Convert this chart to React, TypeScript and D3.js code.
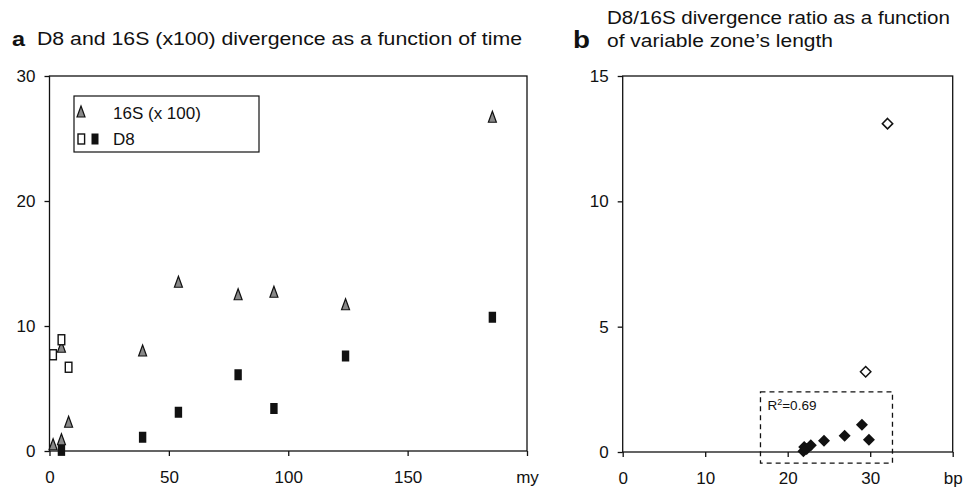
import React, { useRef, useEffect } from "react"
import * as d3 from "d3"

// panel a: divergence vs time (my)
const time16S = [1.5, 5, 5, 8, 39, 54, 79, 94, 124, 185.5]
const div16S = [0.5, 0.9, 8.3, 2.3, 8.0, 13.5, 12.5, 12.7, 11.7, 26.7]
const timeD8Open = [1.5, 5, 8]
const divD8Open = [7.7, 8.9, 6.7]
const timeD8Filled = [5, 39, 54, 79, 94, 124, 185.5]
const divD8Filled = [0.05, 1.1, 3.1, 6.1, 3.4, 7.6, 10.7]
const ticksA_x = [0, 50, 100, 150, 200]
const ticksA_y = [0, 10, 20, 30]

// panel b: D8/16S ratio vs variable zone length (bp)
const lenFilled = [21.9, 22.0, 22.3, 22.8, 24.4, 26.9, 29.0, 29.85]
const ratioFilled = [0.03, 0.2, 0.12, 0.27, 0.45, 0.65, 1.09, 0.49]
const lenOpen = [29.45, 32.1]
const ratioOpen = [3.2, 13.1]
const boxLen = [16.7, 32.7]
const boxRatio = [-0.44, 2.4]
const ticksB_x = [0, 10, 20, 30, 40]
const ticksB_y = [0, 5, 10, 15]

const FONT = "'Liberation Sans', Arial, sans-serif"
const INK = "#111"

const triPath = "M0,-6L4,5L-4,5Z"
const diamondPath = (r: number) => `M0,${-r}L${r},0L0,${r}L${-r},0Z`

function App() {
  const ref = useRef<SVGSVGElement>(null)

  useEffect(() => {
    const svg = d3.select(ref.current)
    svg.selectAll("*").remove()

    const xA = d3.scaleLinear().domain([0, 200]).range([49.5, 527])
    const yA = d3.scaleLinear().domain([0, 30]).range([451, 76])
    const xB = d3.scaleLinear().domain([0, 40]).range([622.7, 952.7])
    const yB = d3.scaleLinear().domain([0, 15]).range([452, 76])

    const styleAxis = (g: any) => {
      g.select(".domain").remove()
      g.selectAll("line").attr("stroke", INK).attr("stroke-width", 1.3)
      g.selectAll("text")
        .attr("font-family", FONT)
        .attr("font-size", 17)
        .attr("fill", INK)
    }

    const drawFrame = (x: any, y: any, xt: number[], yt: number[], unit: string) => {
      const [x0, x1] = x.range()
      const [y0, y1] = y.range()
      svg
        .append("g")
        .attr("transform", `translate(0,${y0})`)
        .call(
          d3
            .axisBottom(x)
            .tickValues(xt)
            .tickSize(5)
            .tickPadding(15)
            .tickFormat((d: any) => (d === xt[xt.length - 1] ? unit : String(d)))
        )
        .call(styleAxis)
      svg
        .append("g")
        .attr("transform", `translate(${x0},0)`)
        .call(d3.axisLeft(y).tickValues(yt).tickSize(5).tickPadding(9))
        .call(styleAxis)
      svg
        .append("rect")
        .attr("x", x0)
        .attr("y", y1)
        .attr("width", x1 - x0)
        .attr("height", y0 - y1)
        .attr("fill", "none")
        .attr("stroke", INK)
        .attr("stroke-width", 1.3)
    }

    drawFrame(xA, yA, ticksA_x, ticksA_y, "my")
    drawFrame(xB, yB, ticksB_x, ticksB_y, "bp")

    // titles (the source figure is stretched sideways, so the text is too)
    const title = svg
      .append("g")
      .attr("font-family", FONT)
      .attr("font-size", 17.5)
      .attr("fill", INK)
    title.append("text").attr("x", 12).attr("y", 46).attr("font-weight", "bold")
      .attr("font-size", 21).attr("textLength", 13).attr("lengthAdjust", "spacingAndGlyphs").text("a")
    title.append("text").attr("x", 37).attr("y", 45)
      .attr("textLength", 485).attr("lengthAdjust", "spacingAndGlyphs")
      .text("D8 and 16S (x100) divergence as a function of time")
    title.append("text").attr("x", 573).attr("y", 48).attr("font-weight", "bold")
      .attr("font-size", 24).attr("textLength", 17).attr("lengthAdjust", "spacingAndGlyphs").text("b")
    title.append("text").attr("x", 607).attr("y", 24)
      .attr("textLength", 343).attr("lengthAdjust", "spacingAndGlyphs")
      .text("D8/16S divergence ratio as a function")
    title.append("text").attr("x", 607).attr("y", 47)
      .attr("textLength", 226).attr("lengthAdjust", "spacingAndGlyphs")
      .text("of variable zone\u2019s length")

    // panel a marks
    const gA = svg.append("g")
    gA.selectAll(".tri")
      .data(time16S)
      .join("path")
      .attr("d", triPath)
      .attr("transform", (d, i) => `translate(${xA(d)},${yA(div16S[i])})`)
      .attr("fill", "#888")
      .attr("stroke", INK)
      .attr("stroke-width", 1.2)
    gA.selectAll(".open")
      .data(timeD8Open)
      .join("rect")
      .attr("x", d => xA(d) - 3.3)
      .attr("y", (d, i) => yA(divD8Open[i]) - 5)
      .attr("width", 6.6)
      .attr("height", 10)
      .attr("fill", "#fff")
      .attr("stroke", INK)
      .attr("stroke-width", 1.4)
    gA.selectAll(".filled")
      .data(timeD8Filled)
      .join("rect")
      .attr("x", d => xA(d) - 3.7)
      .attr("y", (d, i) => yA(divD8Filled[i]) - 5.5)
      .attr("width", 7.4)
      .attr("height", 11)
      .attr("fill", INK)

    // legend
    const lg = svg.append("g")
    lg.append("rect")
      .attr("x", 74)
      .attr("y", 96)
      .attr("width", 185)
      .attr("height", 56)
      .attr("fill", "#fff")
      .attr("stroke", INK)
      .attr("stroke-width", 1.2)
    lg.append("path")
      .attr("d", triPath)
      .attr("transform", "translate(81,112)")
      .attr("fill", "#888")
      .attr("stroke", INK)
      .attr("stroke-width", 1.2)
    lg.append("rect").attr("x", 78).attr("y", 134).attr("width", 6.6).attr("height", 10)
      .attr("fill", "#fff").attr("stroke", INK).attr("stroke-width", 1.4)
    lg.append("rect").attr("x", 91.5).attr("y", 133.5).attr("width", 7).attr("height", 11).attr("fill", INK)
    lg.append("text").attr("x", 113).attr("y", 119).attr("font-family", FONT).attr("font-size", 17)
      .attr("fill", INK).text("16S (x 100)")
    lg.append("text").attr("x", 113).attr("y", 145).attr("font-family", FONT).attr("font-size", 17)
      .attr("fill", INK).text("D8")

    // panel b marks
    const gB = svg.append("g")
    gB.append("rect")
      .attr("x", xB(boxLen[0]))
      .attr("y", yB(boxRatio[1]))
      .attr("width", xB(boxLen[1]) - xB(boxLen[0]))
      .attr("height", yB(boxRatio[0]) - yB(boxRatio[1]))
      .attr("fill", "none")
      .attr("stroke", INK)
      .attr("stroke-width", 1.3)
      .attr("stroke-dasharray", "5,4")
    const r2 = gB.append("text")
      .attr("x", xB(boxLen[0]) + 7)
      .attr("y", yB(boxRatio[1]) + 18)
      .attr("font-family", FONT)
      .attr("font-size", 13.5)
      .attr("fill", INK)
    r2.append("tspan").text("R")
    r2.append("tspan").attr("font-size", 9).attr("dy", -5).text("2")
    r2.append("tspan").attr("dy", 5).text("=0.69")

    gB.selectAll(".fd")
      .data(lenFilled)
      .join("path")
      .attr("d", diamondPath(6))
      .attr("transform", (d, i) => `translate(${xB(d)},${yB(ratioFilled[i])})`)
      .attr("fill", INK)
    gB.selectAll(".od")
      .data(lenOpen)
      .join("path")
      .attr("d", diamondPath(5.2))
      .attr("transform", (d, i) => `translate(${xB(d)},${yB(ratioOpen[i])})`)
      .attr("fill", "#fff")
      .attr("stroke", INK)
      .attr("stroke-width", 1.5)
  }, [])

  return (
    <svg
      ref={ref}
      width={967}
      height={488}
      style={{ position: "absolute", left: 0, top: 0, background: "#fff" }}
    ></svg>
  )
}

export default App
